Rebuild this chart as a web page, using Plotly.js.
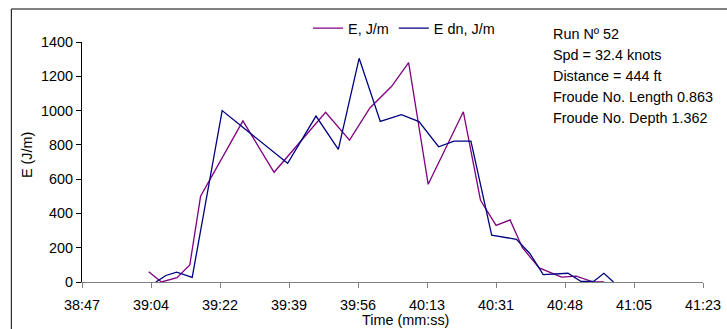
<!DOCTYPE html>
<html>
<head>
<meta charset="utf-8">
<script src="https://cdn.plot.ly/plotly-3.0.1.min.js"></script>
<style>html,body{margin:0;padding:0;background:#fff;}#chart{width:727px;height:329px;}</style>
</head>
<body>
<div id="chart"></div>
<script>
// Time in seconds from the start of the hour (mm:ss -> m*60+s)
const timeE = [2343.7, 2346.9, 2350.8, 2354.0, 2356.7, 2367.3, 2375.1, 2388.0, 2394.0, 2399.1, 2404.5, 2408.8, 2413.7, 2422.5, 2426.8, 2430.7, 2434.2, 2437.3, 2441.5, 2447.1, 2450.8, 2453.7, 2455.1, 2457.8];
const valE  = [60, 0, 25, 100, 500, 940, 640, 990, 828, 1015, 1140, 1280, 570, 993, 477, 330, 362, 200, 82, 28, 34, 12, 0, 0];

const timeEdn = [2345.5, 2348.0, 2350.7, 2354.6, 2362.1, 2378.5, 2385.6, 2391.2, 2396.4, 2401.7, 2407.0, 2411.4, 2416.3, 2420.2, 2424.4, 2429.6, 2435.8, 2439.2, 2442.5, 2448.7, 2452.0, 2455.1, 2457.7, 2460.1];
const valEdn  = [0, 38, 58, 27, 1000, 692, 968, 774, 1305, 937, 976, 936, 789, 822, 822, 273, 249, 165, 43, 51, 3, 3, 51, 0];

const xTickLabels = ["38:47", "39:04", "39:22", "39:39", "39:56", "40:13", "40:31", "40:48", "41:05", "41:23"];
const xStart = 2327;      // 38:47
const xStep = 17.28;      // 0.0002 day
const xTickVals = xTickLabels.map((_, i) => xStart + i * xStep);

const infoLines = ["Run Nº 52", "Spd = 32.4 knots", "Distance = 444 ft", "Froude No. Length 0.863", "Froude No. Depth 1.362"];
const infoY = [1.0346, 0.9458, 0.8583, 0.77, 0.6833];

const FONT = "Liberation Sans, Arial, sans-serif";

const traces = [
  {x: timeE, y: valE, name: "E, J/m", type: "scatter", mode: "lines",
   line: {color: "#800080", width: 1.3}},
  {x: timeEdn, y: valEdn, name: "E dn, J/m", type: "scatter", mode: "lines",
   line: {color: "#000080", width: 1.3}}
];

const annotations = infoLines.map((t, i) => ({
  text: t, xref: "paper", yref: "paper", x: 0.7546, y: infoY[i],
  xanchor: "left", yanchor: "middle", showarrow: false,
  font: {family: FONT, size: 14.4, color: "#000"}
}));
annotations.push({text: "E (J/m)", xref: "paper", yref: "paper", x: -0.0886, y: 0.529,
  xanchor: "center", yanchor: "middle", textangle: -90, showarrow: false,
  font: {family: FONT, size: 14.4, color: "#000"}});
annotations.push({text: "Time (mm:ss)", xref: "paper", yref: "paper", x: 0.5206, y: -0.1583,
  xanchor: "center", yanchor: "middle", showarrow: false,
  font: {family: FONT, size: 14.4, color: "#000"}});

const layout = {
  width: 727, height: 329,
  margin: {l: 82, r: 24, t: 42, b: 47, pad: 0},
  paper_bgcolor: "#fff", plot_bgcolor: "#fff",
  font: {family: FONT, size: 14.4, color: "#000"},
  showlegend: true,
  legend: {orientation: "h", x: 0.364, xanchor: "left", y: 1.057, yanchor: "middle",
    font: {family: FONT, size: 14.4, color: "#000"}, bgcolor: "rgba(0,0,0,0)", itemwidth: 30},
  xaxis: {range: [xStart, xStart + 9 * xStep], tickmode: "array", tickvals: xTickVals, ticktext: xTickLabels,
    showgrid: false, zeroline: false, showline: true, linecolor: "#808080", linewidth: 1,
    ticks: "outside", ticklen: 5, tickcolor: "#808080", tickwidth: 1, ticklabelstandoff: 5,
    tickfont: {family: FONT, size: 14.4, color: "#000"}},
  yaxis: {range: [0, 1400], tickmode: "linear", tick0: 0, dtick: 200,
    showgrid: false, zeroline: false, showline: true, linecolor: "#000", linewidth: 1,
    ticks: "outside", ticklen: 5, tickcolor: "#000", tickwidth: 1,
    tickfont: {family: FONT, size: 14.4, color: "#000"}},
  annotations: annotations,
  shapes: [{type: "rect", xref: "paper", yref: "paper", x0: -0.1138, x1: 1.2, y0: -0.4, y1: 1.1375,
    line: {color: "#000", width: 1}, fillcolor: "rgba(0,0,0,0)", layer: "below"}]
};

Plotly.newPlot("chart", traces, layout, {displayModeBar: false, staticPlot: true});
</script>
</body>
</html>
